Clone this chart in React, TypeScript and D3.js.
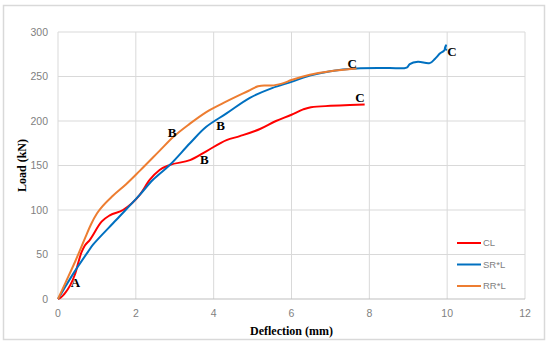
import { line, scaleLinear, curveMonotoneX, curveCatmullRom } from 'd3';

const xTicks = [0, 2, 4, 6, 8, 10, 12];
const yTicks = [0, 50, 100, 150, 200, 250, 300];

// deflection (mm), load (kN)
const clData: Array<[number, number]> = [
  [0, 0], [0.08, 2], [0.17, 6], [0.43, 27], [0.6, 52], [0.69, 60], [0.81, 66],
  [1.12, 87], [1.33, 94], [1.67, 100], [2.1, 117], [2.36, 134],
  [2.61, 145], [2.87, 150.5], [3.39, 156], [3.81, 166], [4.33, 178.5],
  [4.67, 183], [5.19, 191], [5.6, 200], [6.0, 207], [6.3, 213],
  [6.5, 215.5], [7.0, 217], [7.5, 218], [7.88, 218.5],
];

const srData: Array<[number, number]> = [
  [0, 0], [0.15, 11], [0.43, 31], [0.77, 53], [0.9, 61], [1.5, 89], [2.1, 117],
  [2.44, 134], [2.87, 150.5], [3.39, 175], [3.81, 193.5], [4.33, 208.5],
  [4.93, 226], [5.5, 237], [6.0, 244], [6.47, 251], [7.0, 256], [7.67, 259],
  [8.5, 259.5], [8.96, 260], [9.04, 264], [9.25, 266.5], [9.55, 265],
  [9.69, 270], [9.82, 276], [9.92, 279], [9.97, 285], [9.94, 281], [10.0, 280],
];

const rrData: Array<[number, number]> = [
  [0, 0], [0.2, 19], [0.45, 43], [0.7, 69], [0.85, 84], [1.0, 96], [1.12, 103],
  [1.41, 116], [1.75, 129], [2.1, 144], [2.62, 167], [2.96, 182], [3.39, 197],
  [3.81, 210], [4.33, 222], [4.9, 234], [5.14, 239], [5.3, 240], [5.5, 240],
  [5.75, 242], [6.0, 246], [6.47, 252], [7.0, 256], [7.67, 259],
];

const seriesNames = ['CL', 'SR*L', 'RR*L'];
const seriesColors = ['#ff0000', '#0070c0', '#ed7d31'];

// point labels: [series index, deflection, load, letter]
const pointLabels: Array<[number, number, number, string]> = [
  [0, 0.45, 19, 'A'],
  [2, 2.93, 187, 'B'],
  [1, 4.18, 195, 'B'],
  [0, 3.76, 157, 'B'],
  [2, 7.56, 265, 'C'],
  [0, 7.76, 226, 'C'],
  [1, 10.12, 278, 'C'],
];

const margin = { top: 32, right: 25, bottom: 46, left: 58 };
const width = 550;
const height = 345;

const App = () => {
  const x = scaleLinear()
    .domain([0, 12])
    .range([margin.left, width - margin.right]);
  const y = scaleLinear()
    .domain([0, 300])
    .range([height - margin.bottom, margin.top]);

  const lineGen = (curve: any) =>
    line<[number, number]>()
      .x((d) => x(d[0]))
      .y((d) => y(d[1]))
      .curve(curve);

  const series = [clData, srData, rrData];
  const curves = [curveMonotoneX, curveCatmullRom.alpha(0.5), curveMonotoneX];

  return (
    <svg
      width={width}
      height={height}
      style={{ position: 'absolute', left: 0, top: 0, background: '#fff' }}
    >
      <rect
        x={3.5}
        y={5.5}
        width={541}
        height={334}
        fill="#fff"
        stroke="#d9d9d9"
        strokeWidth={1.5}
      />
      {xTicks.map((t) => (
        <line
          key={'gx' + t}
          x1={x(t)}
          x2={x(t)}
          y1={y(0)}
          y2={y(300)}
          stroke="#d9d9d9"
          strokeWidth={1}
        />
      ))}
      {yTicks.map((t) => (
        <line
          key={'gy' + t}
          x1={x(0)}
          x2={x(12)}
          y1={y(t)}
          y2={y(t)}
          stroke={t === 0 ? '#bfbfbf' : '#d9d9d9'}
          strokeWidth={1}
        />
      ))}
      {yTicks.map((t) => (
        <text
          key={'ty' + t}
          x={x(0) - 10}
          y={y(t)}
          dy="0.35em"
          textAnchor="end"
          fontFamily="'Liberation Sans', Arial, sans-serif"
          fontSize={10.5}
          fill="#7f7f7f"
        >
          {t}
        </text>
      ))}
      {xTicks.map((t) => (
        <text
          key={'tx' + t}
          x={x(t)}
          y={y(0) + 14}
          dy="0.35em"
          textAnchor="middle"
          fontFamily="'Liberation Sans', Arial, sans-serif"
          fontSize={10.5}
          fill="#7f7f7f"
        >
          {t}
        </text>
      ))}
      {series.map((data, i) => (
        <path
          key={'s' + i}
          d={lineGen(curves[i])(data) || ''}
          fill="none"
          stroke={seriesColors[i]}
          strokeWidth={2}
          strokeLinejoin="round"
        />
      ))}
      {pointLabels.map(([, px, py, letter], i) => (
        <text
          key={'pl' + i}
          x={x(px)}
          y={y(py)}
          dy="0.35em"
          textAnchor="middle"
          fontFamily="'Liberation Serif', 'Times New Roman', serif"
          fontWeight="bold"
          fontSize={13}
          fill="#000"
        >
          {letter}
        </text>
      ))}
      <text
        transform={`translate(22, ${(y(0) + y(300)) / 2}) rotate(-90)`}
        textAnchor="middle"
        dy="0.35em"
        fontFamily="'Liberation Serif', 'Times New Roman', serif"
        fontWeight="bold"
        fontSize={12}
      >
        Load (kN)
      </text>
      <text
        x={(x(0) + x(12)) / 2}
        y={331}
        textAnchor="middle"
        dy="0.35em"
        fontFamily="'Liberation Serif', 'Times New Roman', serif"
        fontWeight="bold"
        fontSize={12}
      >
        Deflection (mm)
      </text>
      {seriesNames.map((name, i) => (
        <g key={'lg' + i} transform={`translate(457, ${243 + i * 21.5})`}>
          <line x1={0} x2={24} y1={0} y2={0} stroke={seriesColors[i]} strokeWidth={2} />
          <text
            x={26}
            y={0}
            dy="0.35em"
            fontFamily="'Liberation Sans', Arial, sans-serif"
            fontSize={9.5}
            fill="#7f7f7f"
          >
            {name}
          </text>
        </g>
      ))}
    </svg>
  );
};

export default App;
